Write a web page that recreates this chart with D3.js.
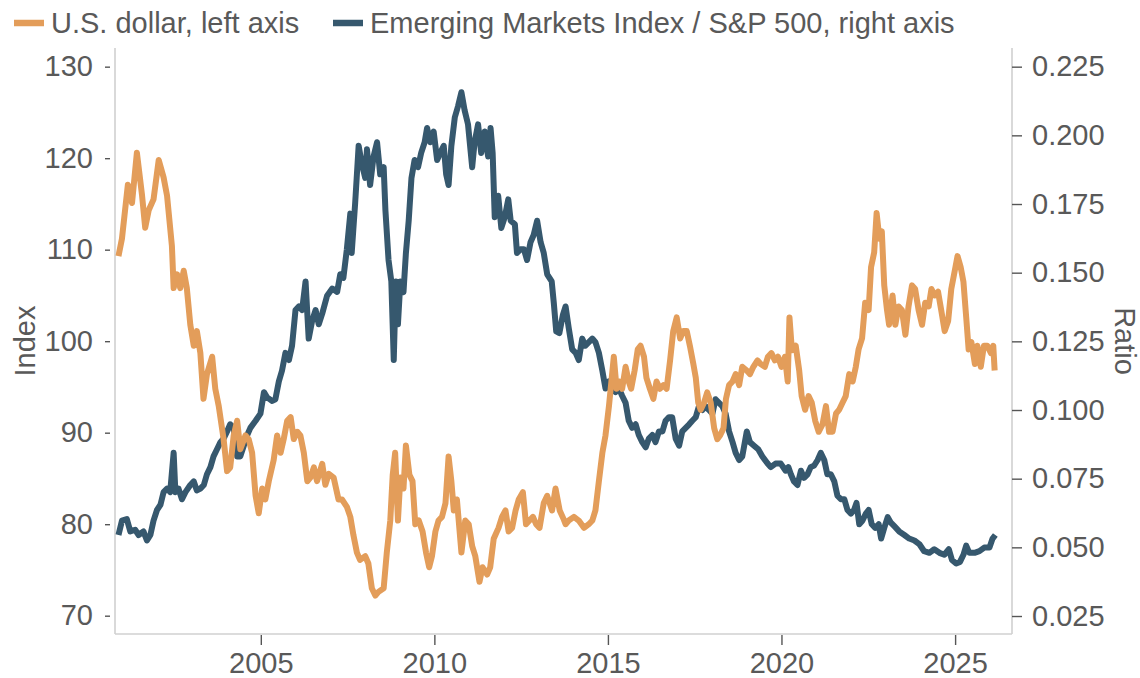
<!DOCTYPE html>
<html>
<head>
<meta charset="utf-8">
<script src="https://cdn.jsdelivr.net/npm/d3@7"></script>
<style>
  html, body { margin: 0; padding: 0; background: #fff; }
  svg { display: block; font-family: "Liberation Sans", Arial, Helvetica, sans-serif; }
</style>
</head>
<body>
<svg id="chart" width="1140" height="678"></svg>
<script>
// U.S. dollar index (left axis), sampled as decimal years
const usdYears = [
  2000.90, 2001.00, 2001.17, 2001.29, 2001.43, 2001.58, 2001.67, 2001.77, 2001.91, 2002.06,
  2002.20, 2002.30, 2002.44, 2002.49, 2002.59, 2002.68, 2002.78, 2002.87, 2002.97, 2003.07,
  2003.16, 2003.26, 2003.35, 2003.45, 2003.60, 2003.69, 2003.79, 2003.93, 2004.03, 2004.12,
  2004.22, 2004.32, 2004.41, 2004.56, 2004.65, 2004.75, 2004.85, 2004.94, 2005.04, 2005.13,
  2005.23, 2005.37, 2005.47, 2005.57, 2005.66, 2005.76, 2005.86, 2005.95, 2006.05, 2006.14,
  2006.24, 2006.34, 2006.43, 2006.53, 2006.62, 2006.77, 2006.86, 2006.96, 2007.10, 2007.24,
  2007.34, 2007.48, 2007.58, 2007.67, 2007.77, 2007.86, 2008.01, 2008.10, 2008.20, 2008.30,
  2008.39, 2008.54, 2008.63, 2008.73, 2008.80, 2008.87, 2008.95, 2009.02, 2009.11, 2009.18,
  2009.28, 2009.37, 2009.45, 2009.55, 2009.66, 2009.76, 2009.85, 2009.93, 2010.03, 2010.12,
  2010.22, 2010.32, 2010.41, 2010.49, 2010.56, 2010.65, 2010.78, 2010.89, 2010.99, 2011.09,
  2011.18, 2011.30, 2011.39, 2011.52, 2011.61, 2011.71, 2011.85, 2011.95, 2012.05, 2012.14,
  2012.24, 2012.34, 2012.43, 2012.55, 2012.64, 2012.74, 2012.84, 2012.93, 2013.03, 2013.15,
  2013.25, 2013.39, 2013.49, 2013.61, 2013.73, 2013.78, 2013.87, 2014.02, 2014.16, 2014.31,
  2014.45, 2014.55, 2014.64, 2014.74, 2014.84, 2014.93, 2015.03, 2015.10, 2015.17, 2015.25,
  2015.32, 2015.41, 2015.51, 2015.60, 2015.67, 2015.77, 2015.86, 2015.94, 2016.04, 2016.11,
  2016.21, 2016.31, 2016.40, 2016.50, 2016.60, 2016.69, 2016.79, 2016.88, 2016.98, 2017.08,
  2017.17, 2017.27, 2017.36, 2017.46, 2017.53, 2017.60, 2017.67, 2017.77, 2017.86, 2017.96,
  2018.06, 2018.15, 2018.23, 2018.33, 2018.40, 2018.49, 2018.59, 2018.68, 2018.78, 2018.87,
  2019.00, 2019.09, 2019.19, 2019.31, 2019.40, 2019.52, 2019.61, 2019.71, 2019.81, 2019.90,
  2020.00, 2020.10, 2020.18, 2020.23, 2020.30, 2020.41, 2020.51, 2020.58, 2020.68, 2020.78,
  2020.87, 2020.97, 2021.07, 2021.18, 2021.28, 2021.37, 2021.47, 2021.57, 2021.66, 2021.76,
  2021.85, 2021.95, 2022.05, 2022.14, 2022.22, 2022.32, 2022.41, 2022.51, 2022.58, 2022.67,
  2022.74, 2022.82, 2022.89, 2022.96, 2023.04, 2023.10, 2023.20, 2023.28, 2023.37, 2023.47,
  2023.57, 2023.66, 2023.76, 2023.85, 2023.95, 2024.05, 2024.14, 2024.24, 2024.32, 2024.41,
  2024.51, 2024.60, 2024.70, 2024.80, 2024.89, 2024.99, 2025.07, 2025.16, 2025.24, 2025.32,
  2025.39, 2025.47, 2025.57, 2025.64, 2025.74, 2025.83, 2025.93, 2026.03, 2026.10, 2026.14
];
const usdValues = [
  109.3, 111.2, 117.1, 115.1, 120.6, 115.9, 112.4, 114.3, 115.5, 119.8,
  117.9, 115.9, 110.4, 105.8, 107.3, 105.8, 107.7, 105.8, 101.8, 99.5,
  101.1, 98.7, 93.7, 96.4, 98.3, 94.8, 92.9, 89.3, 85.8, 86.2,
  89.7, 91.3, 88.2, 89.7, 89.3, 87.8, 83.1, 81.2, 83.9, 82.7,
  84.7, 87.0, 89.7, 87.8, 89.3, 91.3, 91.7, 89.3, 90.1, 89.7,
  87.8, 84.7, 85.1, 86.2, 84.7, 86.6, 84.3, 85.5, 85.1, 82.7,
  82.7, 81.9, 80.8, 78.8, 76.9, 76.1, 76.5, 75.7, 73.0, 72.2,
  72.6, 73.0, 76.9, 80.4, 85.4, 87.8, 80.4, 85.1, 83.9, 88.6,
  85.4, 84.7, 80.0, 80.4, 79.2, 76.9, 75.3, 76.5, 79.2, 80.4,
  80.8, 82.3, 87.4, 84.7, 81.5, 82.7, 76.9, 80.4, 80.0, 77.6,
  76.5, 73.7, 75.3, 74.5, 75.3, 78.4, 79.6, 80.8, 81.5, 79.2,
  79.6, 81.5, 82.7, 83.5, 80.0, 80.4, 80.8, 80.0, 79.6, 82.3,
  83.1, 81.5, 83.9, 81.5, 80.5, 80.0, 80.4, 80.8, 80.4, 79.6,
  80.0, 80.4, 81.5, 84.7, 87.8, 89.7, 92.9, 95.6, 98.3, 94.8,
  95.6, 94.8, 97.2, 95.6, 94.8, 96.8, 99.1, 99.5, 98.3, 96.0,
  94.8, 93.7, 95.6, 94.8, 95.2, 94.8, 97.9, 101.1, 102.6, 100.3,
  101.1, 101.1, 99.5, 97.5, 96.0, 93.3, 92.5, 93.3, 94.4, 93.3,
  90.5, 89.3, 89.7, 90.5, 93.7, 95.2, 95.6, 96.4, 95.2, 97.2,
  96.8, 96.4, 97.2, 97.9, 97.5, 97.2, 98.3, 98.7, 97.9, 98.3,
  97.2, 98.3, 95.6, 102.6, 99.0, 99.5, 96.8, 94.0, 92.5, 94.0,
  93.3, 91.3, 90.1, 90.9, 92.9, 90.1, 90.1, 92.1, 92.5, 93.3,
  94.0, 96.4, 95.6, 97.2, 99.1, 100.3, 104.2, 103.4, 108.1, 109.7,
  114.0, 111.2, 112.0, 106.1, 103.4, 101.8, 105.0, 101.8, 103.8, 103.4,
  100.7, 103.8, 106.1, 105.7, 103.4, 101.8, 104.2, 103.8, 105.7, 105.0,
  105.4, 103.4, 101.1, 102.2, 105.7, 107.7, 109.3, 108.1, 106.5, 102.6,
  99.1, 99.9, 97.5, 99.5, 97.2, 99.5, 99.5, 98.7, 99.5, 96.8
];

// Emerging Markets Index / S&P 500 ratio (right axis)
const ratioYears = [
  2000.90, 2001.00, 2001.14, 2001.24, 2001.38, 2001.48, 2001.62, 2001.72, 2001.82, 2001.91,
  2002.01, 2002.11, 2002.20, 2002.30, 2002.39, 2002.49, 2002.54, 2002.63, 2002.73, 2002.83,
  2002.97, 2003.07, 2003.16, 2003.26, 2003.36, 2003.45, 2003.55, 2003.64, 2003.74, 2003.84,
  2003.93, 2004.03, 2004.12, 2004.22, 2004.32, 2004.41, 2004.51, 2004.61, 2004.70, 2004.85,
  2004.99, 2005.09, 2005.18, 2005.33, 2005.42, 2005.52, 2005.61, 2005.71, 2005.81, 2005.90,
  2006.00, 2006.10, 2006.19, 2006.29, 2006.38, 2006.48, 2006.58, 2006.67, 2006.77, 2006.91,
  2007.06, 2007.20, 2007.29, 2007.38, 2007.48, 2007.58, 2007.62, 2007.72, 2007.82, 2007.91,
  2008.01, 2008.06, 2008.15, 2008.25, 2008.35, 2008.44, 2008.54, 2008.59, 2008.68, 2008.76,
  2008.83, 2008.89, 2008.95, 2009.02, 2009.11, 2009.18, 2009.26, 2009.34, 2009.43, 2009.53,
  2009.62, 2009.72, 2009.79, 2009.88, 2009.98, 2010.08, 2010.17, 2010.27, 2010.34, 2010.41,
  2010.49, 2010.59, 2010.68, 2010.78, 2010.87, 2010.97, 2011.09, 2011.16, 2011.26, 2011.35,
  2011.45, 2011.55, 2011.62, 2011.68, 2011.74, 2011.84, 2011.93, 2012.03, 2012.13, 2012.20,
  2012.32, 2012.38, 2012.48, 2012.58, 2012.67, 2012.77, 2012.86, 2012.96, 2013.06, 2013.15,
  2013.25, 2013.38, 2013.44, 2013.51, 2013.60, 2013.70, 2013.78, 2013.87, 2013.97, 2014.07,
  2014.16, 2014.26, 2014.35, 2014.45, 2014.55, 2014.64, 2014.74, 2014.84, 2014.93, 2015.03,
  2015.12, 2015.22, 2015.32, 2015.41, 2015.51, 2015.60, 2015.70, 2015.80, 2015.89, 2015.99,
  2016.09, 2016.18, 2016.28, 2016.37, 2016.47, 2016.57, 2016.66, 2016.76, 2016.85, 2016.95,
  2017.05, 2017.14, 2017.24, 2017.34, 2017.43, 2017.53, 2017.62, 2017.72, 2017.82, 2017.91,
  2018.01, 2018.10, 2018.20, 2018.30, 2018.39, 2018.49, 2018.59, 2018.68, 2018.78, 2018.87,
  2019.00, 2019.09, 2019.21, 2019.33, 2019.45, 2019.60, 2019.69, 2019.83, 2019.98, 2020.12,
  2020.20, 2020.27, 2020.36, 2020.46, 2020.56, 2020.65, 2020.75, 2020.84, 2020.94, 2021.04,
  2021.13, 2021.23, 2021.32, 2021.42, 2021.52, 2021.61, 2021.71, 2021.81, 2021.90, 2022.00,
  2022.09, 2022.16, 2022.24, 2022.33, 2022.43, 2022.51, 2022.60, 2022.70, 2022.80, 2022.87,
  2022.96, 2023.06, 2023.15, 2023.25, 2023.39, 2023.54, 2023.68, 2023.83, 2023.97, 2024.11,
  2024.26, 2024.40, 2024.55, 2024.69, 2024.82, 2024.91, 2025.03, 2025.14, 2025.24, 2025.32,
  2025.41, 2025.56, 2025.70, 2025.84, 2025.99, 2026.08, 2026.16
];
const ratioValues = [
  0.0545, 0.0597, 0.0603, 0.0558, 0.0564, 0.0545, 0.0558, 0.0525, 0.0545, 0.0597,
  0.0636, 0.0655, 0.0701, 0.0714, 0.0701, 0.0844, 0.0701, 0.0714, 0.0675, 0.0701,
  0.0727, 0.0740, 0.0707, 0.0714, 0.0727, 0.0766, 0.0792, 0.0831, 0.0857, 0.0883,
  0.0896, 0.0922, 0.0948, 0.0935, 0.0831, 0.0831, 0.0870, 0.0909, 0.0935, 0.0961,
  0.0987, 0.1065, 0.1046, 0.1033, 0.1039, 0.1104, 0.1143, 0.1208, 0.1182, 0.1234,
  0.1364, 0.1377, 0.1364, 0.1468, 0.1260, 0.1325, 0.1364, 0.1312, 0.1351, 0.1416,
  0.1442, 0.1430, 0.1494, 0.1481, 0.1585, 0.1715, 0.1572, 0.1754, 0.1962, 0.1897,
  0.1845, 0.1949, 0.1819, 0.1923, 0.1975, 0.1858, 0.1884, 0.1728, 0.1546, 0.1468,
  0.1182, 0.1468, 0.1312, 0.1468, 0.1429, 0.1572, 0.1689, 0.1845, 0.1910, 0.1884,
  0.1936, 0.1975, 0.2027, 0.1975, 0.2014, 0.1910, 0.1936, 0.1962, 0.1858, 0.1819,
  0.1962, 0.2066, 0.2105, 0.2157, 0.2092, 0.2040, 0.1884, 0.1975, 0.2040, 0.1936,
  0.2014, 0.1923, 0.2027, 0.1936, 0.1702, 0.1780, 0.1663, 0.1702, 0.1767, 0.1689,
  0.1676, 0.1572, 0.1585, 0.1585, 0.1546, 0.1611, 0.1637, 0.1689, 0.1611, 0.1572,
  0.1494, 0.1468, 0.1390, 0.1286, 0.1280, 0.1345, 0.1377, 0.1299, 0.1221, 0.1208,
  0.1182, 0.1260, 0.1234, 0.1247, 0.1260, 0.1247, 0.1208, 0.1143, 0.1078, 0.1104,
  0.1078, 0.1065, 0.1078, 0.1052, 0.1026, 0.0961, 0.0935, 0.0948, 0.0909, 0.0883,
  0.0864, 0.0896, 0.0909, 0.0883, 0.0922, 0.0922, 0.0961, 0.0974, 0.0974, 0.0896,
  0.0870, 0.0922, 0.0935, 0.0948, 0.0961, 0.0974, 0.1013, 0.1000, 0.1013, 0.1000,
  0.0987, 0.1039, 0.1026, 0.1013, 0.0987, 0.0922, 0.0883, 0.0844, 0.0818, 0.0831,
  0.0922, 0.0883, 0.0870, 0.0857, 0.0831, 0.0805, 0.0792, 0.0805, 0.0805, 0.0779,
  0.0792, 0.0766, 0.0740, 0.0727, 0.0779, 0.0753, 0.0766, 0.0792, 0.0798, 0.0818,
  0.0844, 0.0818, 0.0766, 0.0766, 0.0740, 0.0688, 0.0675, 0.0675, 0.0636, 0.0623,
  0.0636, 0.0662, 0.0584, 0.0597, 0.0623, 0.0636, 0.0584, 0.0571, 0.0584, 0.0532,
  0.0571, 0.0610, 0.0590, 0.0577, 0.0558, 0.0545, 0.0532, 0.0525, 0.0512, 0.0486,
  0.0480, 0.0493, 0.0480, 0.0473, 0.0493, 0.0454, 0.0441, 0.0447, 0.0473, 0.0506,
  0.0480, 0.0480, 0.0486, 0.0499, 0.0499, 0.0532, 0.0545
];

const yearTicks = [2005, 2010, 2015, 2020, 2025];
const usdTicks = [70, 80, 90, 100, 110, 120, 130];
const ratioTicks = [0.025, 0.050, 0.075, 0.100, 0.125, 0.150, 0.175, 0.200, 0.225];

const seriesNames = ["U.S. dollar, left axis", "Emerging Markets Index / S&P 500, right axis"];
const seriesColors = ["#e39d5a", "#36586e"];

// decimal year -> UTC Date
function toDate(y) {
  const yr = Math.floor(y);
  const start = Date.UTC(yr, 0, 1), end = Date.UTC(yr + 1, 0, 1);
  return new Date(start + (y - yr) * (end - start));
}

const plot = { left: 115, right: 1012, top: 48, bottom: 634 };
const textColor = "#595959";
const fontSize = 29;

const svg = d3.select("#chart");

const x = d3.scaleUtc()
  .domain([toDate(2000.80), toDate(2026.64)])
  .range([plot.left, plot.right]);
const yL = d3.scaleLinear().domain([68.0, 132.04]).range([plot.bottom, plot.top]);
const yR = d3.scaleLinear().domain([0.01845, 0.2318]).range([plot.bottom, plot.top]);

// Spines
const spine = svg.append("g").attr("stroke", "#d0d0d0").attr("stroke-width", 1.6);
spine.append("line").attr("x1", plot.left).attr("x2", plot.left).attr("y1", plot.top).attr("y2", plot.bottom);
spine.append("line").attr("x1", plot.right).attr("x2", plot.right).attr("y1", plot.top).attr("y2", plot.bottom);
spine.append("line").attr("x1", plot.left).attr("x2", plot.right).attr("y1", plot.bottom).attr("y2", plot.bottom);

function styleAxis(g) {
  g.select(".domain").remove();
  g.selectAll(".tick line").attr("stroke", "#555").attr("stroke-width", 1.4);
  g.selectAll(".tick text")
    .attr("fill", textColor)
    .attr("font-size", fontSize)
    .attr("font-family", "'Liberation Sans', Arial, sans-serif");
}

// Bottom axis
svg.append("g")
  .attr("transform", `translate(0,${plot.bottom + 1})`)
  .call(d3.axisBottom(x).tickValues(yearTicks.map(y => toDate(y))).tickFormat(d3.utcFormat("%Y")).tickSize(10).tickPadding(7))
  .call(styleAxis);

// Left axis (ticks sit slightly off the spine)
svg.append("g")
  .attr("transform", `translate(${plot.left - 5},0)`)
  .call(d3.axisLeft(yL).tickValues(usdTicks).tickFormat(d3.format("d")).tickSize(5).tickPadding(12))
  .call(styleAxis);

// Right axis
svg.append("g")
  .attr("transform", `translate(${plot.right},0)`)
  .call(d3.axisRight(yR).tickValues(ratioTicks).tickFormat(d3.format(".3f")).tickSize(10).tickPadding(10))
  .call(styleAxis);

// Axis titles
svg.append("text")
  .attr("transform", `translate(35,${(plot.top + plot.bottom) / 2}) rotate(-90)`)
  .attr("text-anchor", "middle")
  .attr("fill", textColor).attr("font-size", fontSize)
  .text("Index");
svg.append("text")
  .attr("transform", `translate(1115,${(plot.top + plot.bottom) / 2}) rotate(90)`)
  .attr("text-anchor", "middle")
  .attr("fill", textColor).attr("font-size", fontSize)
  .text("Ratio");

// Lines
const ratioData = ratioYears.map((y, i) => ({ date: toDate(y), value: ratioValues[i] }));
const usdData = usdYears.map((y, i) => ({ date: toDate(y), value: usdValues[i] }));

const lineR = d3.line().x(d => x(d.date)).y(d => yR(d.value));
const lineL = d3.line().x(d => x(d.date)).y(d => yL(d.value));

svg.append("path").datum(ratioData)
  .attr("fill", "none").attr("stroke", seriesColors[1])
  .attr("stroke-width", 6).attr("stroke-linejoin", "round")
  .attr("d", lineR);
svg.append("path").datum(usdData)
  .attr("fill", "none").attr("stroke", seriesColors[0])
  .attr("stroke-width", 6).attr("stroke-linejoin", "round")
  .attr("d", lineL);

// Legend
const legendX = [14, 333];
const legend = svg.append("g");
seriesNames.forEach((name, i) => {
  legend.append("line")
    .attr("x1", legendX[i]).attr("x2", legendX[i] + 30)
    .attr("y1", 23).attr("y2", 23)
    .attr("stroke", seriesColors[i]).attr("stroke-width", 6.5);
  legend.append("text")
    .attr("x", legendX[i] + 37).attr("y", 33)
    .attr("fill", textColor).attr("font-size", fontSize)
    .text(name);
});
</script>
</body>
</html>
